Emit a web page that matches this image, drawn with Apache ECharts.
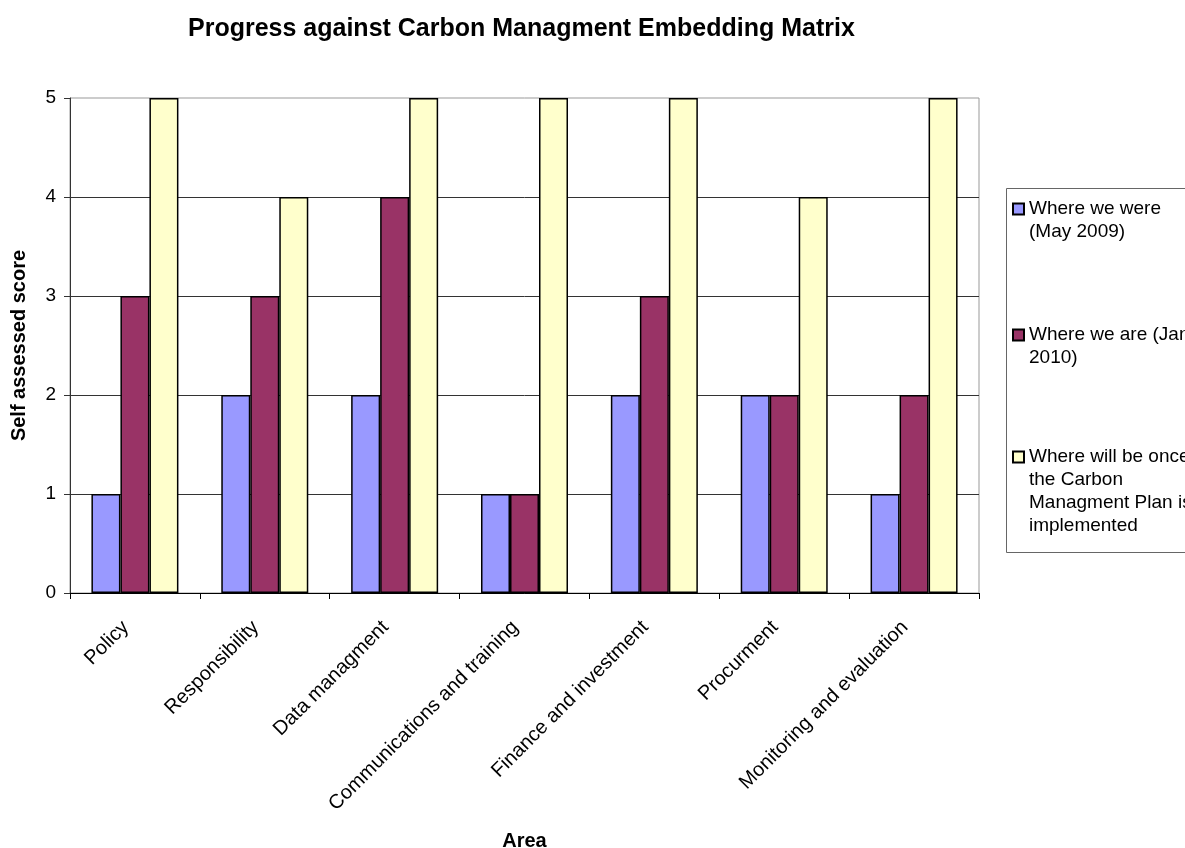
<!DOCTYPE html>
<html>
<head>
<meta charset="utf-8">
<script src="https://cdn.jsdelivr.net/npm/echarts@6/dist/echarts.min.js"></script>
<style>
  html, body { margin: 0; padding: 0; background: #fff; }
  #chart { width: 1185px; height: 848px; }
</style>
</head>
<body>
<div id="chart"></div>
<script>
// Areas of the embedding matrix
const areas = [
  'Policy',
  'Responsibility',
  'Data managment',
  'Communications and training',
  'Finance and investment',
  'Procurment',
  'Monitoring and evaluation'
];

// Self assessed scores per area
const mayScores = [1, 2, 2, 1, 2, 2, 1];
const janScores = [3, 3, 4, 1, 3, 2, 2];
const targetScores = [5, 4, 5, 5, 5, 4, 5];

const seriesNames = [
  'Where we were (May 2009)',
  'Where we are (Jan 2010)',
  'Where will be once the Carbon Managment Plan is implemented'
];

// Wrapped legend text; leading blank lines keep the swatch beside the first line
const legendLines = [
  ['Where we were', '(May 2009)'],
  ['Where we are (Jan', '2010)'],
  ['Where will be once', 'the Carbon', 'Managment Plan is', 'implemented']
];

const barColors = ['#9999FF', '#993366', '#FFFFCC'];
const FONT = 'Arial, "Liberation Sans", sans-serif';
const LINE_H = 23;
const legendCenters = [209, 335, 457];

const chart = echarts.init(document.getElementById('chart'));

const legends = seriesNames.map(function (name, i) {
  const lines = legendLines[i];
  const pad = lines.length - 1;
  const text = '\n'.repeat(pad) + lines.join('\n');
  const total = lines.length + pad;
  return {
    show: true,
    orient: 'vertical',
    left: 1012,
    top: legendCenters[i] - total * LINE_H / 2,
    padding: 0,
    itemWidth: 11,
    itemHeight: 11,
    icon: 'rect',
    selectedMode: false,
    data: [name],
    formatter: function () { return text; },
    textStyle: {
      fontFamily: FONT,
      fontSize: 19,
      lineHeight: LINE_H,
      color: '#000'
    }
  };
});

const series = [mayScores, janScores, targetScores].map(function (vals, i) {
  return {
    name: seriesNames[i],
    type: 'bar',
    data: vals,
    barGap: '0%',
    barCategoryGap: '33%',
    itemStyle: {
      color: barColors[i],
      borderColor: '#000',
      borderWidth: 1.5
    },
    emphasis: { disabled: true }
  };
});

chart.setOption({
  backgroundColor: '#fff',
  animation: false,
  title: {
    text: 'Progress against Carbon Managment Embedding Matrix',
    left: 183,
    top: 12,
    textStyle: {
      fontFamily: FONT,
      fontSize: 25,
      fontWeight: 'bold',
      color: '#000'
    }
  },
  legend: legends,
  graphic: [{
    type: 'rect',
    left: 1004,
    top: 186,
    shape: { width: 300, height: 364 },
    style: { fill: 'none', stroke: '#666', lineWidth: 1 },
    silent: true,
    z: -1
  }],
  grid: {
    left: 70,
    right: 206,
    top: 98,
    bottom: 255,
    show: true,
    borderColor: '#999',
    borderWidth: 1,
    backgroundColor: '#fff',
    containLabel: false,
    outerBoundsMode: 'none'
  },
  xAxis: {
    type: 'category',
    data: areas,
    name: 'Area',
    nameLocation: 'middle',
    nameGap: 238,
    nameTextStyle: {
      fontFamily: FONT,
      fontSize: 20,
      fontWeight: 'bold',
      color: '#000'
    },
    axisLine: { lineStyle: { color: '#000', width: 1 } },
    axisTick: { show: true, length: 6, alignWithLabel: false, lineStyle: { color: '#000' } },
    axisLabel: {
      interval: 0,
      rotate: 45,
      margin: 22,
      padding: [0, 13, 0, 0],
      fontFamily: FONT,
      fontSize: 20,
      color: '#000'
    },
    splitLine: { show: false }
  },
  yAxis: {
    type: 'value',
    min: 0,
    max: 5,
    interval: 1,
    name: 'Self assessed score',
    nameLocation: 'middle',
    nameGap: 41,
    nameTextStyle: {
      fontFamily: FONT,
      fontSize: 20,
      fontWeight: 'bold',
      color: '#000'
    },
    axisLine: { show: true, lineStyle: { color: '#333', width: 1 } },
    axisTick: { show: true, length: 6, lineStyle: { color: '#333' } },
    axisLabel: {
      margin: 14,
      fontFamily: FONT,
      fontSize: 19,
      color: '#000'
    },
    splitLine: {
      show: true,
      showMaxLine: false,
      lineStyle: { color: '#333', width: 1 }
    }
  },
  series: series
});
</script>
</body>
</html>
